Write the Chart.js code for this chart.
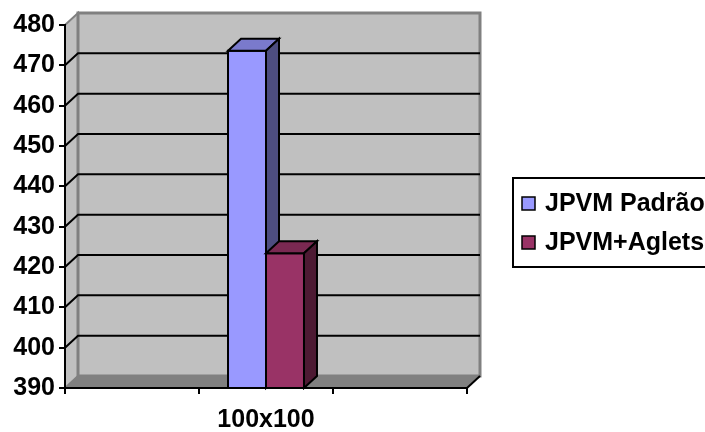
<!DOCTYPE html>
<html>
<head>
<meta charset="utf-8">
<script src="https://cdn.jsdelivr.net/npm/chart.js@4/dist/chart.umd.min.js"></script>
<style>
html,body{margin:0;padding:0;background:#fff;}
#wrap{width:705px;height:432px;position:relative;}
</style>
</head>
<body>
<div id="wrap"><canvas id="c" width="705" height="432"></canvas></div>
<script>
// ---- data ----
const categories = ['', '100x100', ''];
const seriesNames = ['JPVM Padrão', 'JPVM+Aglets'];
const padraoValues = [null, 473.6, null];
const agletsValues = [null, 423.4, null];
const yTickValues = [390, 400, 410, 420, 430, 440, 450, 460, 470, 480];

// ---- style ----
const FONT = {family: '"Liberation Sans", Arial, sans-serif', size: 25, weight: 'bold'};
const DX = 13, DY = -12;
const faceColors = [
  {front: '#9999FF', top: '#7A7ACC', side: '#4D4D80'},
  {front: '#993366', top: '#7A2952', side: '#4D1A33'}
];

const threeD = {
  id: 'threeD',
  beforeDraw(chart) {
    const ctx = chart.ctx, a = chart.chartArea, ys = chart.scales.y;
    ctx.save();
    // left wall
    ctx.fillStyle = '#C0C0C0';
    ctx.beginPath();
    ctx.moveTo(a.left, a.top); ctx.lineTo(a.left + DX, a.top + DY);
    ctx.lineTo(a.left + DX, a.bottom + DY); ctx.lineTo(a.left, a.bottom);
    ctx.closePath(); ctx.fill();
    ctx.strokeStyle = '#808080'; ctx.lineWidth = 2; ctx.stroke();
    // back wall
    ctx.fillStyle = '#C0C0C0';
    ctx.fillRect(a.left + DX, a.top + DY, a.right - a.left, a.bottom - a.top);
    ctx.strokeStyle = '#808080'; ctx.lineWidth = 3;
    ctx.strokeRect(a.left + DX, a.top + DY, a.right - a.left, a.bottom - a.top);
    // floor
    ctx.fillStyle = '#808080';
    ctx.beginPath();
    ctx.moveTo(a.left, a.bottom); ctx.lineTo(a.left + DX, a.bottom + DY);
    ctx.lineTo(a.right + DX, a.bottom + DY); ctx.lineTo(a.right, a.bottom);
    ctx.closePath(); ctx.fill();
    ctx.strokeStyle = '#000'; ctx.lineWidth = 2;
    ctx.beginPath(); ctx.moveTo(a.right, a.bottom); ctx.lineTo(a.right + DX, a.bottom + DY); ctx.stroke();
    // gridlines
    ctx.strokeStyle = '#000'; ctx.lineWidth = 2;
    ys.ticks.forEach(t => {
      if (t.value <= ys.min || t.value >= ys.max) return;
      const y = ys.getPixelForValue(t.value);
      ctx.beginPath();
      ctx.moveTo(a.left, y); ctx.lineTo(a.left + DX, y + DY); ctx.lineTo(a.right + DX, y + DY);
      ctx.stroke();
    });
    ctx.restore();
  },
  afterDatasetsDraw(chart) {
    const ctx = chart.ctx, ys = chart.scales.y;
    const floorY = ys.getPixelForValue(ys.min);
    ctx.save();
    ctx.lineJoin = 'miter';
    chart.data.datasets.forEach((ds, di) => {
      const meta = chart.getDatasetMeta(di);
      const c = faceColors[di];
      meta.data.forEach((bar, i) => {
        if (ds.data[i] == null) return;
        const p = bar.getProps(['x', 'y', 'base', 'width'], true);
        const l = p.x - p.width / 2, r = p.x + p.width / 2, t = p.y, b = Math.min(p.base, floorY);
        ctx.lineWidth = 2; ctx.strokeStyle = '#000';
        // front
        ctx.fillStyle = c.front;
        ctx.fillRect(l, t, r - l, b - t);
        ctx.strokeRect(l, t, r - l, b - t);
        // top
        ctx.fillStyle = c.top;
        ctx.beginPath();
        ctx.moveTo(l, t); ctx.lineTo(l + DX, t + DY); ctx.lineTo(r + DX, t + DY); ctx.lineTo(r, t);
        ctx.closePath(); ctx.fill(); ctx.stroke();
        // side
        ctx.fillStyle = c.side;
        ctx.beginPath();
        ctx.moveTo(r, t); ctx.lineTo(r + DX, t + DY); ctx.lineTo(r + DX, b + DY); ctx.lineTo(r, b);
        ctx.closePath(); ctx.fill(); ctx.stroke();
      });
    });
    ctx.restore();
  },
  afterDraw(chart) {
    // legend box
    const ctx = chart.ctx;
    ctx.save();
    ctx.strokeStyle = '#000'; ctx.lineWidth = 2;
    ctx.strokeRect(513, 178, 230, 89);
    ctx.font = `${FONT.weight} ${FONT.size}px ${FONT.family}`;
    ctx.textBaseline = 'middle'; ctx.textAlign = 'left'; ctx.fillStyle = '#000';
    const rows = [203.5, 242.5];
    chart.data.datasets.forEach((ds, di) => {
      const y = rows[di];
      ctx.fillStyle = faceColors[di].front;
      ctx.fillRect(522, y - 6.5, 13, 13);
      ctx.lineWidth = 1.5; ctx.strokeStyle = '#000';
      ctx.strokeRect(522, y - 6.5, 13, 13);
      ctx.fillStyle = '#000';
      ctx.fillText(ds.label, 545, y + 1);
    });
    ctx.restore();
  }
};

new Chart(document.getElementById('c'), {
  type: 'bar',
  data: {
    labels: categories,
    datasets: [
      {label: seriesNames[0], data: padraoValues, backgroundColor: faceColors[0].front, borderColor: '#000', borderWidth: 2},
      {label: seriesNames[1], data: agletsValues, backgroundColor: faceColors[1].front, borderColor: '#000', borderWidth: 2}
    ]
  },
  options: {
    responsive: false,
    animation: false,
    events: [],
    layout: {padding: {left: 0, top: 25, right: 238, bottom: 0}},
    datasets: {bar: {categoryPercentage: 0.567, barPercentage: 1.0}},
    plugins: {legend: {display: false}, tooltip: {enabled: false}},
    scales: {
      x: {
        afterFit(s) { s.height = 44; },
        grid: {display: true, drawOnChartArea: false, drawTicks: true, tickLength: 6, color: '#000', lineWidth: 2, offset: true},
        border: {display: true, color: '#000', width: 2},
        ticks: {color: '#000', font: FONT, padding: 11, maxRotation: 0, autoSkip: false}
      },
      y: {
        min: 390, max: 480,
        afterFit(s) { s.width = 65; },
        afterBuildTicks(s) { s.ticks = yTickValues.map(v => ({value: v})); },
        grid: {display: true, drawOnChartArea: false, drawTicks: true, tickLength: 6, color: '#000', lineWidth: 2},
        border: {display: true, color: '#000', width: 2},
        ticks: {color: '#000', font: FONT, padding: 4}
      }
    }
  },
  plugins: [threeD]
});
</script>
</body>
</html>
